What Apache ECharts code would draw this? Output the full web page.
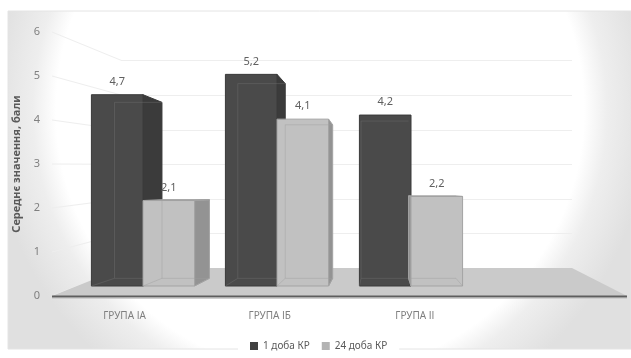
<!DOCTYPE html>
<html>
<head>
<meta charset="utf-8">
<script src="https://cdn.jsdelivr.net/npm/echarts@6/dist/echarts.min.js"></script>
<style>
html,body{margin:0;padding:0;background:#fff;}
#chart{width:631px;height:358px;}
</style>
</head>
<body>
<div id="chart"></div>
<script>
// ---- data ----
const categories = ['ГРУПА ІА', 'ГРУПА ІБ', 'ГРУПА ІІ'];
const seriesNames = ['1 доба КР', '24 доба КР'];
const day1Values = [4.7, 5.2, 4.2];
const day24Values = [2.1, 4.1, 2.2];
const yTicks = [0, 1, 2, 3, 4, 5, 6];
const yAxisTitle = 'Середнє значення, бали';

// ---- styling / layout ----
const FONT = '"Noto Sans", "DejaVu Sans", sans-serif';
const VX = 380, VY = 190, S = 0.92;     // perspective of the bars
const FRONT_LEFT = 52, FRONT_RIGHT = 627, BACK_LEFT = 122, BACK_RIGHT = 572;
const barStyles = [
  { front: '#4a4a4a', side: '#3b3b3b', edge: '#3a3a3a', inner: 'rgba(110,110,110,0.45)', legend: '#404040' },
  { front: '#c1c1c1', side: '#939393', edge: '#a3a3a3', inner: 'rgba(160,160,160,0.45)', legend: '#b3b3b3' }
];

function fmt(v) { return v.toFixed(1).replace('.', ','); }

function makeRender(side) {
  const st = barStyles[side];
  return function (params, api) {
    const ci = api.value(0), v = api.value(1);
    const top = api.coord([ci, v]);
    const base = api.coord([ci, 0]);
    const band = api.size([1, 0])[0];
    const w = band * 0.385;
    const x0 = side === 0 ? top[0] - w : top[0];
    const x1 = x0 + w;
    const yT = top[1], yB = base[1];
    const b = (x, y) => [VX + S * (x - VX), VY + S * (y - VY)];
    const bTL = b(x0, yT), bTR = b(x1, yT), bBL = b(x0, yB), bBR = b(x1, yB);
    const children = [];
    if (x1 < VX) {
      children.push({ type: 'polygon', shape: { points: [[x1, yT], bTR, bBR, [x1, yB]] },
        style: { fill: st.side, stroke: st.edge, lineWidth: 1 } });
    }
    if (x0 > VX) {
      children.push({ type: 'polygon', shape: { points: [[x0, yT], bTL, bBL, [x0, yB]] },
        style: { fill: st.side, stroke: st.edge, lineWidth: 1 } });
    }
    if (yT > VY) {
      children.push({ type: 'polygon', shape: { points: [[x0, yT], [x1, yT], bTR, bTL] },
        style: { fill: st.side, stroke: st.edge, lineWidth: 1 } });
    }
    children.push({ type: 'rect', shape: { x: x0, y: yT, width: w, height: yB - yT },
      style: { fill: st.front, stroke: st.edge, lineWidth: 1 } });
    children.push({ type: 'polyline', shape: { points: [bTR, bTL, bBL, bBR] },
      style: { fill: null, stroke: st.inner, lineWidth: 1 } });
    children.push({ type: 'line', shape: { x1: x0, y1: yB, x2: bBL[0], y2: bBL[1] },
      style: { stroke: st.inner, lineWidth: 1 } });
    children.push({ type: 'line', shape: { x1: x1, y1: yB, x2: bBR[0], y2: bBR[1] },
      style: { stroke: st.inner, lineWidth: 1 } });
    children.push({ type: 'text', style: { text: fmt(v), x: (x0 + x1) / 2, y: yT - 13,
      align: 'center', verticalAlign: 'middle', fill: '#606060', fontSize: 11, fontFamily: FONT } });
    return { type: 'group', children: children };
  };
}

const chart = echarts.init(document.getElementById('chart'), null, { renderer: 'canvas' });

chart.setOption({
  animation: false,
  textStyle: { fontFamily: FONT },
  grid: [
    { left: 52, right: 143.5, top: 32, bottom: 62 },
    { left: 76, right: 153, top: 41.8, bottom: 72 },
    { left: BACK_LEFT, right: 631 - BACK_RIGHT, top: 60.7, bottom: 90 }
  ],
  xAxis: [
    { type: 'category', gridIndex: 0, data: categories,
      axisLine: { show: false }, axisTick: { show: false }, splitLine: { show: false },
      axisLabel: { color: '#7f7f7f', fontSize: 10, margin: 15, fontFamily: FONT } },
    { type: 'category', gridIndex: 1, data: categories, show: false },
    { type: 'category', gridIndex: 2, data: categories, show: false }
  ],
  yAxis: [
    { type: 'value', gridIndex: 0, min: 0, max: 6, interval: 1,
      axisLine: { show: false }, axisTick: { show: false }, splitLine: { show: false },
      axisLabel: { color: '#808080', fontSize: 11, margin: 12, fontFamily: FONT },
      name: yAxisTitle, nameLocation: 'middle', nameGap: 21,
      nameTextStyle: { color: '#595959', fontSize: 11, fontWeight: 'bold', fontFamily: FONT } },
    { type: 'value', gridIndex: 1, min: 0, max: 6, interval: 1,
      axisLine: { show: false }, axisTick: { show: false }, axisLabel: { show: false },
      splitLine: { show: false } },
    { type: 'value', gridIndex: 2, min: 0, max: 6, interval: 1,
      axisLine: { show: false }, axisTick: { show: false }, axisLabel: { show: false },
      splitLine: { show: true, lineStyle: { color: '#eeeeee', width: 1 } } }
  ],
  legend: {
    data: seriesNames, left: 238, top: 336, padding: [5, 12],
    backgroundColor: '#ffffff', icon: 'rect', itemWidth: 8, itemHeight: 8, itemGap: 12,
    textStyle: { color: '#595959', fontSize: 10, fontFamily: FONT }
  },
  series: [
    { name: seriesNames[0], type: 'custom', xAxisIndex: 1, yAxisIndex: 1, z: 3,
      itemStyle: { color: barStyles[0].legend },
      renderItem: makeRender(0), encode: { x: 0, y: 1 },
      data: day1Values.map((v, i) => [i, v]) },
    { name: seriesNames[1], type: 'custom', xAxisIndex: 1, yAxisIndex: 1, z: 3,
      itemStyle: { color: barStyles[1].legend },
      renderItem: makeRender(1), encode: { x: 0, y: 1 },
      data: day24Values.map((v, i) => [i, v]) }
  ]
});

const yFront0 = chart.convertToPixel({ yAxisIndex: 0 }, 0);
const yBack0 = chart.convertToPixel({ yAxisIndex: 2 }, 0);
const graphics = [];
graphics.push({
  type: 'rect', z: -10, silent: true,
  shape: { x: 8, y: 11, width: 623, height: 338 },
  style: {
    fill: new echarts.graphic.RadialGradient(320, 110, 330, [
      { offset: 0, color: '#ffffff' },
      { offset: 0.8, color: '#ffffff' },
      { offset: 0.87, color: '#eeeeee' },
      { offset: 1, color: '#e0e0e0' }
    ], true),
    stroke: '#e4e4e4', lineWidth: 1
  }
});
yTicks.forEach(function (t) {
  graphics.push({ type: 'line', z: 0, silent: true,
    shape: { x1: FRONT_LEFT, y1: chart.convertToPixel({ yAxisIndex: 0 }, t),
             x2: BACK_LEFT, y2: chart.convertToPixel({ yAxisIndex: 2 }, t) },
    style: { stroke: '#eeeeee', lineWidth: 1 } });
});
graphics.push({
  type: 'polygon', z: 1, silent: true,
  shape: { points: [[FRONT_LEFT, yFront0], [BACK_LEFT, yBack0], [BACK_RIGHT, yBack0], [FRONT_RIGHT, yFront0]] },
  style: { fill: '#cacaca' }
});
graphics.push({ type: 'line', z: 1, silent: true,
  shape: { x1: FRONT_LEFT, y1: yFront0 + 0.5, x2: FRONT_RIGHT, y2: yFront0 + 0.5 },
  style: { stroke: '#5e5e5e', lineWidth: 2 } });
graphics.push({ type: 'line', z: 1, silent: true,
  shape: { x1: FRONT_LEFT, y1: yFront0 + 2.5, x2: FRONT_RIGHT, y2: yFront0 + 2.5 },
  style: { stroke: '#cfcfcf', lineWidth: 1 } });
chart.setOption({ graphic: graphics });
</script>
</body>
</html>
